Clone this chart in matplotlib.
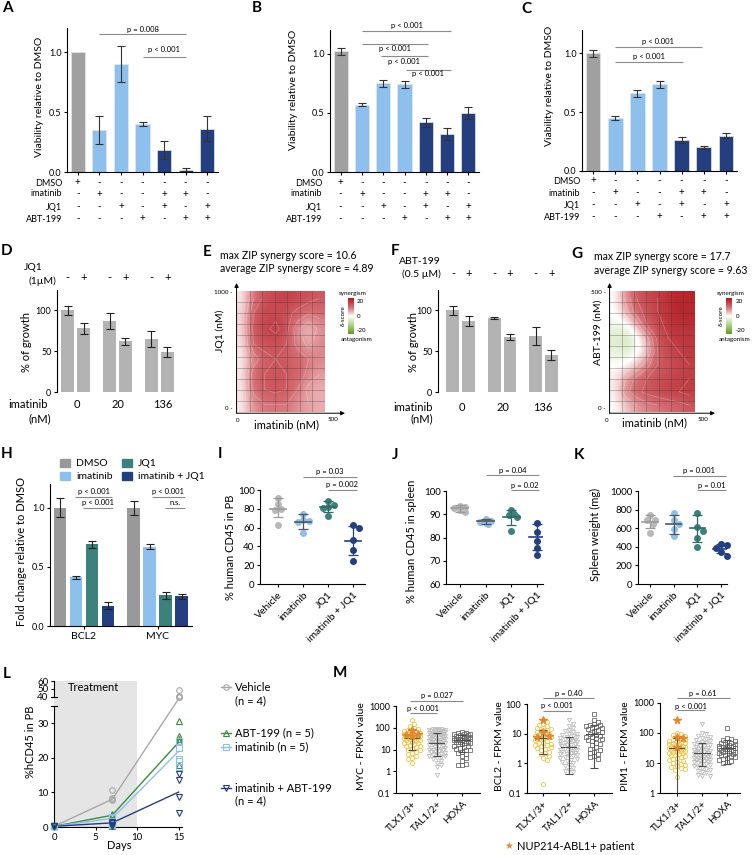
import numpy as np
import matplotlib
matplotlib.use("Agg")
import matplotlib.pyplot as plt
from matplotlib.colors import LinearSegmentedColormap
from matplotlib.transforms import blended_transform_factory

plt.rcParams['font.family'] = ['Lato', 'DejaVu Sans']
plt.rcParams['axes.linewidth'] = 0.8
plt.rcParams['xtick.major.width'] = 0.8
plt.rcParams['ytick.major.width'] = 0.8
plt.rcParams['xtick.major.size'] = 2.5
plt.rcParams['ytick.major.size'] = 2.5
plt.rcParams['xtick.labelsize'] = 6.5
plt.rcParams['ytick.labelsize'] = 6.5
plt.rcParams['xtick.major.pad'] = 2
plt.rcParams['ytick.major.pad'] = 1.5

GREY = '#a0a0a0'
LBLUE = '#8ec0ee'
NAVY = '#243f80'
TEAL = '#3d817c'
GREEN = '#3d8b3d'
YELLOW = '#f0c445'
ORANGE = '#e3892b'

# ---------------- data ----------------
combo_rows = ['DMSO', 'imatinib', 'JQ1', 'ABT-199']
combo_signs = [['+', '-', '-', '-', '-', '-', '-'],
               ['-', '+', '-', '-', '+', '+', '-'],
               ['-', '-', '+', '-', '+', '-', '+'],
               ['-', '-', '-', '+', '-', '+', '+']]
combo_colors = [GREY, LBLUE, LBLUE, LBLUE, NAVY, NAVY, NAVY]

a_mean = [1.0, 0.35, 0.90, 0.40, 0.18, 0.02, 0.36]
a_low = [1.0, 0.23, 0.75, 0.38, 0.11, 0.01, 0.26]
a_high = [1.0, 0.47, 1.05, 0.42, 0.26, 0.03, 0.47]

b_mean = [1.02, 0.57, 0.75, 0.74, 0.42, 0.32, 0.50]
b_low = [0.99, 0.555, 0.72, 0.71, 0.38, 0.27, 0.45]
b_high = [1.05, 0.585, 0.78, 0.77, 0.46, 0.37, 0.55]

c_mean = [1.0, 0.45, 0.66, 0.74, 0.26, 0.20, 0.30]
c_low = [0.97, 0.43, 0.63, 0.71, 0.24, 0.19, 0.28]
c_high = [1.03, 0.47, 0.69, 0.77, 0.29, 0.21, 0.32]

dose_labels = ['0', '20', '136']
d_mean = [100, 78, 87, 62, 65, 49]
d_err = [6, 7, 10, 4.5, 9.5, 6.5]
f_mean = [100, 87, 91, 67, 69, 45]
f_err = [6, 6, 1.5, 3.5, 11, 6]

# ZIP delta scores (rows: high -> low second drug, cols: imatinib 0 -> 500 nM)
e_delta = [[1, 9, 13, 14, 15, 14, 13, 12],
           [2, 12, 14, 14, 13, 11, 9, 10],
           [2, 13, 14, 16, 13, 7, 3, 7],
           [1, 12, 13, 13, 12, 8, 5, 8],
           [1, 7, 11, 12, 12, 11, 9, 8],
           [1, 11, 12, 13, 12, 11, 8, 6],
           [1, 10, 12, 13, 12, 9, 5, 5],
           [1, 7, 9, 9, 9, 7, 6, 5]]
g_delta = [[0, 7, 12, 14, 15, 17, 18, 18],
           [0, 5, 11, 13, 15, 17, 18, 18],
           [-2, -1, 5, 12, 14, 16, 17, 17],
           [-4, -6, -2, 5, 13, 15, 16, 16],
           [-3, -4, -1, 3, 12, 14, 15, 16],
           [0, 0, 3, 8, 12, 13, 14, 15],
           [1, 6, 10, 12, 13, 14, 15, 15],
           [1, 8, 11, 13, 14, 15, 15, 16],
           [0, 3, 6, 8, 9, 10, 11, 12]]

h_genes = ['BCL2', 'MYC']
h_treat = ['DMSO', 'imatinib', 'JQ1', 'imatinib + JQ1']
h_colors = ['#999999', LBLUE, TEAL, NAVY]
h_bcl2_mean = [1.0, 0.41, 0.69, 0.17]
h_bcl2_err = [0.08, 0.01, 0.03, 0.03]
h_myc_mean = [1.0, 0.67, 0.26, 0.25]
h_myc_err = [0.06, 0.02, 0.03, 0.02]

mouse_groups = ['Vehicle', 'imatinib', 'JQ1', 'imatinib + JQ1']
mouse_colors = ['#b8b8b8', LBLUE, TEAL, NAVY]
mouse_err_colors = ['#9a9a9a', '#555555', '#2f6b66', NAVY]
i_points = [[91, 85, 80, 79, 63], [75, 68, 67, 66, 54],
            [88, 84, 82, 81, 72], [63, 60, 47, 36, 25]]
i_mean = [80, 66, 82, 46]
i_low = [71, 59, 77, 31]
i_high = [92, 74, 88, 62]
j_points = [[93.6, 93.1, 92.7, 91.7, 90.8], [88.1, 87.0, 86.5, 86.3, 86.0],
            [92.0, 90.0, 89.6, 88.9, 83.0], [86.4, 82.4, 78.6, 75.3, 72.5]]
j_mean = [92.5, 87.0, 88.8, 80.3]
j_low = [91.0, 86.0, 85.5, 74.5]
j_high = [94.0, 88.0, 92.0, 86.0]
k_points = [[740, 693, 690, 650, 550], [765, 686, 640, 596, 514],
            [768, 614, 571, 490, 400], [425, 418, 382, 346, 304]]
k_mean = [670, 640, 600, 375]
k_low = [600, 540, 455, 330]
k_high = [740, 745, 745, 425]

l_days = [0, 7, 15]
l_vehicle = [[0.2, 0.2, 0.2, 0.2], [10.8, 8.5, 7.8, 8.0], [49, 41, 40, 40]]
l_abt = [[0.2, 0.2, 0.2, 0.2, 0.2], [3.8, 3.2, 1.0, 0.5, 0.3], [30.5, 26.4, 25.5, 24.8, 17.8]]
l_imatinib = [[0.2, 0.2, 0.2, 0.2, 0.2], [3.0, 2.5, 1.8, 1.0, 0.5], [25.0, 22.9, 19.7, 19.2, 17.3]]
l_combo = [[0.2, 0.2, 0.2, 0.2], [1.5, 1.2, 0.5, 0.3], [15.4, 13.5, 8.7, 4.0]]
l_mean_vehicle = [0.2, 8.0, 39.0]
l_mean_abt = [0.2, 3.4, 24.5]
l_mean_imatinib = [0.2, 2.5, 21.9]
l_mean_combo = [0.2, 1.2, 10.1]

subtypes = ['TLX1/3+', 'TAL1/2+', 'HOXA']
myc_tlx = [220, 150, 115, 95, 88, 80, 72, 68, 64, 60, 57, 54, 51, 48, 46, 44, 42, 40, 38, 36,
           34, 32, 30, 29, 27, 26, 24, 23, 21, 20, 19, 17, 16, 15, 14, 12.5, 11, 10, 9, 8,
           7, 6, 5, 4, 3.5, 2.4]
myc_tal = [90, 88, 85, 82, 80, 78, 75, 72, 70, 68, 65, 62, 60, 58, 55, 52, 50, 48, 46, 44,
           42, 40, 38, 36, 35, 33, 32, 30, 28, 27, 26, 25, 24, 23, 22, 21, 20, 19, 18, 17,
           16, 15, 14, 13, 12, 11.5, 11, 10.5, 10, 9.5, 9, 8.5, 8, 7.5, 7, 6.5, 6, 5.5, 5,
           4.8, 4.5, 4, 3.5, 3, 2.5, 2.0, 1.5, 0.7]
myc_hoxa = [65, 60, 57, 54, 52, 50, 48, 46, 44, 42, 40, 38, 36, 35, 34, 33, 32, 31, 30, 29,
            28, 27, 26, 25, 24, 23, 22, 20, 19, 18, 17, 15, 14, 13, 12, 11, 10, 9, 8, 7,
            6, 5, 4, 3, 2.2, 2.0, 2.0]
myc_star = [75, 50, 40, 48]
myc_mean = [35, 20, 27]
myc_low = [10, 5, 8]
myc_high = [80, 60, 48]

bcl2_tlx = [30, 25, 22, 20, 18, 16, 15, 14, 13, 12, 11, 10, 9.5, 9, 8.5, 8, 7.5, 7, 6.5, 6,
            5.5, 5, 4.8, 4.5, 4.2, 4, 3.8, 3.5, 3.2, 3, 2.8, 2.5, 2.2, 2, 1.8, 1.5, 1.3, 0.2]
bcl2_tal = [28, 22, 18, 15, 13, 12, 11, 10, 9.5, 9, 8.5, 8, 7.5, 7, 6.8, 6.5, 6.2, 6, 5.7,
            5.5, 5.2, 5, 4.8, 4.6, 4.4, 4.2, 4, 3.8, 3.6, 3.4, 3.2, 3, 2.9, 2.8, 2.6, 2.5,
            2.4, 2.3, 2.2, 2.1, 2, 1.9, 1.8, 1.7, 1.6, 1.5, 1.4, 1.3, 1.2, 1.1, 1.0, 0.9,
            0.8, 0.7, 0.6, 0.55, 0.5]
bcl2_hoxa = [45, 30, 25, 22, 20, 19, 18, 17, 16, 15, 14, 13, 12, 11, 10, 9, 8.5, 8, 7.5, 7,
             6.5, 6, 5.5, 5, 4.5, 4, 3.5, 3, 2.8, 2.5, 2.2, 2, 1.8, 1.6, 1.4]
bcl2_star = [28, 11, 8.5, 8]
bcl2_mean = [7, 3.5, 9.5]
bcl2_low = [2, 0.43, 0.68]
bcl2_high = [13, 8, 20]

pim1_tlx = [100, 90, 85, 80, 70, 65, 60, 58, 55, 52, 50, 48, 46, 44, 42, 40, 38, 36, 35, 34,
            33, 32, 31, 30, 29, 28, 27, 26, 25, 24, 23, 22, 21, 20, 19, 18, 17, 16, 15, 14,
            13, 12, 11, 10, 9, 8.5, 8, 7.5, 7, 6.5, 6, 3.3]
pim1_tal = [200, 100, 90, 80, 75, 70, 65, 60, 55, 50, 48, 45, 42, 40, 38, 36, 34, 32, 30, 29,
            28, 27, 26, 25, 24, 23, 22, 21, 20, 19, 18, 17.5, 17, 16.5, 16, 15.5, 15, 14.5,
            14, 13.5, 13, 12.5, 12, 11.5, 11, 10.5, 10, 9.5, 9, 8.5, 8, 7.5, 7, 6.5, 6,
            5.5, 5, 4.5, 4, 3.8, 3.6]
pim1_hoxa = [150, 70, 65, 60, 55, 50, 48, 46, 44, 42, 40, 38, 36, 35, 34, 33, 32, 31, 30, 29,
             28, 27, 26, 25, 24, 23, 22, 21, 20, 19, 18, 17, 16, 15, 14, 13, 12, 11, 10]
pim1_star = [280, 75, 70, 33]
pim1_mean = [32, 22, 32]
pim1_low = [0.5, 8, 9]
pim1_high = [70, 46, 60]

# ---------------- helpers ----------------
W, H = 755, 855
fig = plt.figure(figsize=(7.55, 8.55), dpi=100)


def add_ax(box):
    l, t, r, b = box
    return fig.add_axes([l / W, 1 - b / H, (r - l) / W, (b - t) / H])


def ftext(x, y, s, **kw):
    kw.setdefault('ha', 'center')
    kw.setdefault('va', 'center')
    fig.text(x / W, 1 - y / H, s, **kw)


def clean(ax):
    ax.spines['top'].set_visible(False)
    ax.spines['right'].set_visible(False)


def sig(ax, x1, x2, ly, ty, s, fs=5.5):
    ax.plot([x1, x2], [ly, ly], color='#8a8a8a', lw=0.8, clip_on=False,
            solid_capstyle='butt')
    ax.text((x1 + x2) / 2, ty, s, ha='center', va='center', fontsize=fs, clip_on=False)


def swarm(vals, d, ppu, log=False, max_px=10.0):
    v = np.asarray(vals, dtype=float)
    yp = (np.log10(v) if log else v) * ppu
    steps = [0.0]
    k = 1
    while k * d * 0.5 <= max_px:
        steps += [k * d * 0.5, -k * d * 0.5]
        k += 1
    offs = np.zeros(len(v))
    placed = []
    for i in np.argsort(-yp):
        best, best_d = 0.0, -1.0
        for s in steps:
            md = min([np.hypot(s - px, yp[i] - py) for px, py in placed] or [1e9])
            if md >= d * 0.95:
                best = s
                break
            if md > best_d:
                best, best_d = s, md
        offs[i] = best
        placed.append((best, yp[i]))
    return offs


# ---------------- A, B, C ----------------
def viability(box, mean, lo, hi, sigs, row_px, label_px, ylab_xy):
    ax = add_ax(box)
    mean = np.asarray(mean)
    lo = np.asarray(lo)
    hi = np.asarray(hi)
    x = np.arange(len(mean))
    ax.bar(x, mean, width=0.66, color=combo_colors, edgecolor='#e6e6e6', linewidth=0.5)
    has_err = hi > lo
    ax.errorbar(x[has_err], mean[has_err],
                yerr=[(mean - lo)[has_err], (hi - mean)[has_err]], fmt='none',
                ecolor='#333333', elinewidth=0.8, capsize=3, capthick=0.8)
    ax.set_xlim(-0.5, 6.5)
    ax.set_ylim(0, 1.2)
    ax.set_yticks([0, 0.5, 1.0], ['0.0', '0.5', '1.0'])
    ax.set_xticks(x, [''] * len(x))
    clean(ax)
    for s in sigs:
        sig(ax, *s)
    l, t, r, b = box
    tr = blended_transform_factory(ax.transData, ax.transAxes)
    for name, signs, ry in zip(combo_rows, combo_signs, row_px):
        ya = (b - ry) / (b - t)
        ax.text((label_px - l) / (r - l), ya, name, transform=ax.transAxes,
                ha='right', va='center', fontsize=6.5)
        for xi, sg in zip(x, signs):
            ax.text(xi, ya, sg, transform=tr, ha='center', va='center', fontsize=7)
    ftext(*ylab_xy, 'Viability relative to DMSO', rotation=90, fontsize=7.5)
    return ax


viability((67, 28, 218, 172), a_mean, a_low, a_high,
          [(1, 5, 1.153, 1.19, 'p = 0.008'), (3, 5, 0.958, 1.02, 'p < 0.001')],
          [183, 194, 207, 219], 62, (39, 97))
viability((330, 30, 479, 172), b_mean, b_low, b_high,
          [(1, 5.2, 1.19, 1.24, 'p < 0.001'), (1, 4.1, 1.085, 1.04, 'p < 0.001'),
           (1.9, 4.1, 0.98, 0.935, 'p < 0.001'), (3.05, 5.2, 0.865, 0.83, 'p < 0.001')],
          [183, 194, 207, 219], 322, (294, 90))
viability((582, 30, 737, 171), c_mean, c_low, c_high,
          [(1, 4.9, 1.057, 1.105, 'p < 0.001'), (1, 4.05, 0.93, 0.977, 'p < 0.001')],
          [181, 193, 205, 217], 580, (549, 86))


# ---------------- D, F ----------------
def growth(box, mean, err, xlim, drug, conc, drug_xy, conc_xy, sign_y, ylab_xy,
           imat_xy, dose_px, nm_xy):
    ax = add_ax(box)
    x = np.repeat(np.arange(len(dose_labels)), 2) + np.tile([-0.19, 0.19], len(dose_labels))
    ax.bar(x, mean, width=0.31, color='#b3b3b3')
    ax.errorbar(x, mean, yerr=err, fmt='none', ecolor='#222222', elinewidth=0.8,
                capsize=3, capthick=0.8)
    ax.set_xlim(*xlim)
    ax.set_ylim(0, 125)
    ax.set_yticks([0, 50, 100])
    ax.set_xticks([])
    clean(ax)
    ax.spines['bottom'].set_visible(False)
    tr = blended_transform_factory(ax.transData, ax.transAxes)
    l, t, r, b = box
    for i, xi in enumerate(x):
        ax.text(xi, (b - sign_y) / (b - t), '-' if i % 2 == 0 else '+', transform=tr,
                ha='center', va='center', fontsize=8, clip_on=False)
    ftext(*drug_xy, drug, fontsize=7.5)
    ftext(*conc_xy, conc, fontsize=7.5)
    ftext(*ylab_xy, '% of growth', rotation=90, fontsize=8)
    ftext(*imat_xy, 'imatinib', fontsize=8)
    for lab, xp in zip(dose_labels, dose_px):
        ftext(xp, imat_xy[1], lab, fontsize=8)
    ftext(*nm_xy, '(nM)', fontsize=8)


growth((57, 290, 178, 392), d_mean, d_err, (-0.45, 2.45), 'JQ1', '(1µM)', (33, 267),
       (42, 281), 278, (27, 342), (28, 405), [77, 118, 163], (40, 419))
growth((438, 290, 560, 392), f_mean, f_err, (-0.55, 2.4), 'ABT-199', '(0.5 µM)', (420, 261),
       (421, 274), 274, (413, 342), (413, 407), [462, 503, 543], (422, 419))

# ---------------- E, G ----------------
zip_cmap = LinearSegmentedColormap.from_list(
    'zip', [(0, '#5c9e1f'), (0.35, '#cfe4b6'), (0.5, '#ffffff'), (0.62, '#eab0b2'),
            (0.75, '#d46c72'), (1.0, '#b0161c')])


def synergy(box, delta, cbox, titles, title_x, title_y, top_lab, ylab, ylab_xy, xlab_xy,
            x0_px, x500_px, cb_lab_x):
    ax = add_ax(box)
    z = np.asarray(delta, dtype=float)
    nr, nc = z.shape
    im = ax.imshow(z, cmap=zip_cmap, vmin=-20, vmax=20, extent=(0, 7, 0, 11),
                   aspect='auto', interpolation='bicubic')
    xs = (np.arange(nc) + 0.5) * 7 / nc
    ys = 11 - (np.arange(nr) + 0.5) * 11 / nr
    ax.contour(xs, ys, z, levels=[3, 6, 9, 12, 15], colors='white',
               linewidths=0.45, alpha=0.3)
    for gx in range(1, 7):
        ax.axvline(gx, color='#333333', lw=0.5, alpha=0.4)
    for gy in range(1, 11):
        ax.axhline(gy, color='#333333', lw=0.5, alpha=0.4)
    ax.set_xlim(0, 7)
    ax.set_ylim(0, 11)
    ax.set_xticks([])
    ax.set_yticks([])
    for sp in ax.spines.values():
        sp.set_visible(False)
    l, t, r, b = box
    ax.annotate('', xy=((r - l + 20) / (r - l), -0.01), xytext=(-0.005, -0.01),
                xycoords='axes fraction',
                arrowprops=dict(arrowstyle='-|>', lw=0.7, color='black', mutation_scale=6,
                                shrinkA=0, shrinkB=0))
    ax.annotate('', xy=(-0.005, 1.066), xytext=(-0.005, -0.01), xycoords='axes fraction',
                arrowprops=dict(arrowstyle='-|>', lw=0.7, color='black', mutation_scale=6,
                                shrinkA=0, shrinkB=0))
    ftext(title_x, title_y, titles[0], ha='left', fontsize=7.6)
    ftext(title_x, title_y + 14, titles[1], ha='left', fontsize=7.6)
    ftext(l - 4, t + 1, top_lab + ' -', ha='right', fontsize=4.5)
    ftext(l - 4, b - 4, '0 -', ha='right', fontsize=4.5)
    ftext(*ylab_xy, ylab, rotation=90, fontsize=7.5)
    ftext(*xlab_xy, 'imatinib (nM)', fontsize=8)
    ftext(x0_px, b + 8, '0', fontsize=4.5)
    ftext(x500_px, b + 7, '500', fontsize=4.5)
    cax = add_ax(cbox)
    cb = fig.colorbar(im, cax=cax)
    cb.outline.set_visible(False)
    cb.set_ticks([])
    cl, ct, cr, cbm = cbox
    ftext((cl + cr) / 2 + 2, ct - 5, 'synergism', fontsize=4.5)
    ftext(cb_lab_x, ct + 3, '20', ha='left', fontsize=4.5)
    ftext(cb_lab_x, (ct + cbm) / 2, '0', ha='left', fontsize=4.5)
    ftext(cb_lab_x, cbm - 3, '-20', ha='left', fontsize=4.5)
    ftext((cl + cr) / 2 + 6, cbm + 5, 'antagonism', fontsize=4.5)
    ftext(cl - 5, (ct + cbm) / 2, 'δ-score', rotation=90, fontsize=4.5)


synergy((237, 291, 325, 412), e_delta, (348, 298, 354, 334),
        ['max ZIP synergy score = 10.6', 'average ZIP synergy score = 4.89'], 220, 255,
        '1000', 'JQ1 (nM)', (220, 331), (287, 425), 238, 333, 357)
synergy((610, 291, 695, 412), g_delta, (726, 298, 732, 334),
        ['max ZIP synergy score = 17.7', 'average ZIP synergy score = 9.63'], 594, 257,
        '500', 'ABT-199 (nM)', (598, 332), (655, 423), 607, 703, 736)

# ---------------- H ----------------
axH = add_ax((50, 484, 192, 626))
xb = np.arange(4)
xm = np.arange(4) + 4.6
axH.bar(xb, h_bcl2_mean, width=0.8, color=h_colors)
axH.bar(xm, h_myc_mean, width=0.8, color=h_colors)
axH.errorbar(xb, h_bcl2_mean, yerr=h_bcl2_err, fmt='none', ecolor='#222222',
             elinewidth=0.8, capsize=3, capthick=0.8)
axH.errorbar(xm, h_myc_mean, yerr=h_myc_err, fmt='none', ecolor='#222222',
             elinewidth=0.8, capsize=3, capthick=0.8)
axH.set_xlim(-0.625, 8.25)
axH.set_ylim(0, 1.2)
axH.set_yticks([0, 0.5, 1.0], ['0.0', '0.5', '1.0'])
axH.set_xticks([1.5, 6.1], h_genes, fontsize=7.5)
clean(axH)
sig(axH, 0.94, 3.25, 1.09, 1.14, 'p < 0.001')
sig(axH, 1.45, 3.3, 1.0, 1.045, 'p < 0.001')
sig(axH, 5.75, 7.8, 1.09, 1.14, 'p < 0.001')
sig(axH, 6.55, 7.8, 1.0, 1.045, 'n.s.')
ftext(22, 552, 'Fold change relative to DMSO', rotation=90, fontsize=8)
for lab, col, (mx, my) in zip(h_treat, h_colors, [(65, 463), (65, 476), (127, 463), (127, 476)]):
    fig.patches.append(plt.Rectangle(((mx - 5) / W, 1 - (my + 4) / H), 10 / W, 8 / H,
                                     transform=fig.transFigure, color=col))
    ftext(mx + 11, my, lab, ha='left', fontsize=7.5)


# ---------------- I, J, K ----------------
def dotplot(box, points, mean, lo, hi, xlim, ylim, yticks, ppu, cat_px, sigs, ylab,
            ylab_xy):
    ax = add_ax(box)
    for i, pts in enumerate(points):
        offs = swarm(pts, 5.5, ppu, max_px=8) / cat_px
        ax.plot(i + offs, pts, 'o', ms=4, color=mouse_colors[i], ls='none', clip_on=False,
                zorder=3)
        ax.plot([i - 0.33, i + 0.33], [mean[i]] * 2, color=mouse_err_colors[i], lw=1.2,
                zorder=4)
        ax.errorbar(i, mean[i], yerr=[[mean[i] - lo[i]], [hi[i] - mean[i]]], fmt='none',
                    ecolor=mouse_err_colors[i], elinewidth=0.9, capsize=3.5, capthick=0.9,
                    zorder=4)
    ax.set_xlim(*xlim)
    ax.set_ylim(*ylim)
    ax.set_yticks(yticks)
    ax.tick_params(axis='y', labelsize=7)
    ax.set_xticks(range(len(mouse_groups)))
    ax.set_xticklabels(mouse_groups, rotation=45, ha='right', rotation_mode='anchor',
                       fontsize=7.5)
    clean(ax)
    for s in sigs:
        sig(ax, *s)
    ftext(*ylab_xy, ylab, rotation=90, fontsize=8)
    return ax


dotplot((260, 490, 365, 584), i_points, i_mean, i_low, i_high, (-0.72, 3.48), (0, 100),
        [0, 20, 40, 60, 80, 100], 0.94, 25,
        [(1, 3.15, 114, 120, 'p = 0.03'), (2, 3.15, 100, 105.5, 'p = 0.002')],
        '% human CD45 in PB', (230, 547))
dotplot((446, 491, 543, 584), j_points, j_mean, j_low, j_high, (-0.54, 3.23), (60, 100),
        [60, 70, 80, 90, 100], 2.33, 25.7,
        [(1, 3.07, 107, 109, 'p = 0.04'), (2, 3.07, 100.3, 102.4, 'p = 0.02')],
        '% human CD45 in spleen', (411, 541))
dotplot((638, 491, 727, 584), k_points, k_mean, k_low, k_high, (-0.5, 3.25), (0, 1000),
        [0, 200, 400, 600, 800, 1000], 0.093, 23.7,
        [(0.97, 3.2, 1164, 1218, 'p = 0.001'), (2, 3.2, 1007, 1061, 'p = 0.01')],
        'Spleen weight (mg)', (595, 534))

# ---------------- L ----------------


def l_fwd(y):
    y = np.asarray(y, dtype=float)
    return np.where(y <= 35, y, np.where(y <= 40, 35 + (y - 35) * 0.52,
                                         37.6 + (y - 40) * 0.23))


def l_inv(t):
    t = np.asarray(t, dtype=float)
    return np.where(t <= 35, t, np.where(t <= 37.6, 35 + (t - 35) / 0.52,
                                         40 + (t - 37.6) / 0.23))


axL = add_ax((54, 681, 182, 827))
axL.set_yscale('function', functions=(l_fwd, l_inv))
axL.axvspan(0, 10, color='#e5e5e5', lw=0, zorder=0)
l_sets = [(l_vehicle, l_mean_vehicle, '#a8a8a8', 'o'),
          (l_abt, l_mean_abt, GREEN, '^'),
          (l_imatinib, l_mean_imatinib, LBLUE, 's'),
          (l_combo, l_mean_combo, NAVY, 'v')]
for pts, m, col, mk in l_sets:
    axL.plot(l_days, m, color=col, lw=1, zorder=2)
    for day, p in zip(l_days, pts):
        axL.plot([day] * len(p), p, mk, ms=4, mfc='none', mec=col, mew=0.8, ls='none',
                 clip_on=False, zorder=3)
axL.set_xlim(0, 15.4)
axL.set_ylim(0, 60)
axL.set_yticks([0, 10, 20, 30, 40, 50, 60])
axL.set_xticks([0, 5, 10, 15])
axL.tick_params(labelsize=7)
clean(axL)
axL.spines['left'].set_visible(False)
ytr = axL.get_yaxis_transform()
axL.plot([0, 0], [0, 35], transform=ytr, color='black', lw=0.8, clip_on=False)
axL.plot([0, 0], [40, 60], transform=ytr, color='black', lw=0.8, clip_on=False)
for yb in (35, 40):
    axL.plot([-0.025, 0.025], [yb, yb], transform=ytr, color='black', lw=0.8,
             clip_on=False)
ftext(93, 687, 'Treatment', fontsize=8)
ftext(119, 845, 'Days', fontsize=8)
ftext(31, 742, '%hCD45 in PB', rotation=90, fontsize=8)

lax = add_ax((210, 670, 310, 810))
lax.set_xlim(210, 310)
lax.set_ylim(810, 670)
lax.axis('off')
for (pts, m, col, mk), ly in zip(l_sets, [687, 733, 747, 788]):
    lax.plot([221, 231], [ly, ly], color=col, lw=1)
    lax.plot([226], [ly], mk, ms=4, mfc='none', mec=col, mew=0.8)
ftext(235, 687, 'Vehicle', ha='left', fontsize=8)
ftext(235, 701, '(n = 4)', ha='left', fontsize=8)
ftext(235, 733, 'ABT-199 (n = 5)', ha='left', fontsize=8)
ftext(235, 747, 'imatinib (n = 5)', ha='left', fontsize=8)
ftext(235, 788, 'imatinib + ABT-199', ha='left', fontsize=8)
ftext(235, 801, '(n = 4)', ha='left', fontsize=8)


# ---------------- M ----------------
def fpkm(box, groups, stars, mean, lo, hi, ylim, yticks, ppd, xlim, sigs, ylab, ylab_x):
    ax = add_ax(box)
    ax.set_yscale('log')
    markers = ['o', 'v', 's']
    cols = [YELLOW, '#bdbdbd', '#6b6b6b']
    for i, vals in enumerate(groups):
        offs = swarm(vals, 4.0, ppd, log=True, max_px=9) / 25
        ax.plot(i + offs, vals, markers[i], ms=3, mfc='none', mec=cols[i], mew=0.6,
                ls='none', zorder=2)
        ax.errorbar(i, mean[i], yerr=[[mean[i] - lo[i]], [hi[i] - mean[i]]], fmt='none',
                    ecolor='#4d4d4d', elinewidth=0.8, capsize=3, capthick=0.8, zorder=3)
        ax.plot([i - 0.3, i + 0.3], [mean[i]] * 2, color='#4d4d4d', lw=0.8, zorder=3)
    soffs = swarm(stars, 6, ppd, log=True, max_px=8) / 25
    ax.plot(soffs, stars, '*', ms=5.5, color=ORANGE, ls='none', zorder=4)
    ax.set_ylim(*ylim)
    ax.set_xlim(*xlim)
    ax.set_yticks(yticks, [('%g' % v) for v in yticks])
    ax.minorticks_off()
    ax.set_xticks(range(3))
    ax.set_xticklabels(subtypes, rotation=45, ha='right', rotation_mode='anchor', fontsize=7)
    ax.tick_params(axis='y', labelsize=6.5)
    clean(ax)
    for s in sigs:
        sig(ax, *s)
    ftext(ylab_x, 746, ylab, rotation=90, fontsize=7.5)


fpkm((396, 706, 480, 793), [myc_tlx, myc_tal, myc_hoxa], myc_star, myc_mean, myc_low,
     myc_high, (0.1, 1000), [0.1, 1, 10, 100, 1000], 21.75, (-0.64, 2.72),
     [(-0.08, 1, 475, 800, 'p < 0.001'), (-0.08, 2.04, 1700, 2900, 'p = 0.027')],
     'MYC - FPKM value', 361)
fpkm((527, 704, 612, 793), [bcl2_tlx, bcl2_tal, bcl2_hoxa], bcl2_star, bcl2_mean,
     bcl2_low, bcl2_high, (0.1, 100), [0.1, 1, 10, 100], 29.6, (-0.63, 2.7),
     [(0, 1.1, 58, 91, 'p < 0.001'), (0, 2, 155, 230, 'p = 0.40')],
     'BCL2 - FPKM value', 499)
fpkm((660, 703, 740, 793), [pim1_tlx, pim1_tal, pim1_hoxa], pim1_star, pim1_mean,
     pim1_low, pim1_high, (1, 1000), [1, 10, 100, 1000], 30, (-0.66, 2.5),
     [(0, 1.1, 600, 770, 'p < 0.001'), (0, 2.1, 1470, 2150, 'p = 0.61')],
     'PIM1 - FPKM value', 626)
ftext(509, 846, '★', color=ORANGE, fontsize=7, family='DejaVu Sans')
ftext(517, 846, 'NUP214-ABL1+ patient', ha='left', fontsize=8)

# ---------------- panel letters ----------------
for lab, (px, py) in zip('ABCDEFGHIJKLM',
                         [(7, 8), (257, 8), (526, 9), (7, 251), (207, 252), (395, 251),
                          (577, 254), (7, 454), (220, 454), (395, 455), (579, 455),
                          (7, 674), (340, 673)]):
    ftext(px, py, lab, fontsize=11, fontweight='bold')

fig.savefig('out.png', dpi=100)
